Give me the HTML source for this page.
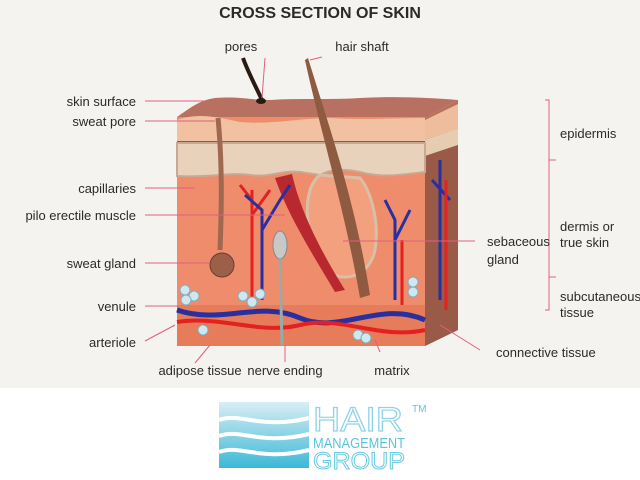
<!DOCTYPE html>
<html><head><style>
html,body{margin:0;padding:0;width:640px;height:480px;overflow:hidden;background:#fff}
svg{display:block}
text{font-family:"Liberation Sans",Arial,sans-serif;font-size:13px;fill:#2a2a2a}
</style></head><body>
<svg width="640" height="480" viewBox="0 0 640 480">
<rect x="0" y="0" width="640" height="388" fill="#f5f3ef"/>
<text x="320" y="18" text-anchor="middle" style="font-size:16px;font-weight:bold">CROSS SECTION OF SKIN</text>

<!-- side face -->
<polygon points="425,118 458,100 458,330 425,346" fill="#b8705a"/>
<polygon points="425,140 458,128 458,145 425,156" fill="#e6cdb2"/>
<polygon points="425,120 458,104 458,128 425,140" fill="#eebd9c"/>
<polygon points="425,156 458,145 458,330 425,346" fill="#9a5a48"/>
<!-- top face -->
<path d="M177,117 C190,108 200,100 215,98 C240,96 250,100 270,100 C300,98 330,100 360,98 C400,96 430,98 458,100 L425,118 Z" fill="#b87060"/>
<!-- front face layers -->
<rect x="177" y="117" width="248" height="229" fill="#ee8c6c"/>
<path d="M177,120 C200,112 220,118 240,122 C270,125 300,118 330,118 C360,120 400,118 425,118 L425,142 L177,142 Z" fill="#f1c1a1"/>
<rect x="177" y="141" width="248" height="2" fill="#8a5a48"/>
<path d="M177,143 L425,143 L425,172 C400,175 380,178 360,172 C340,168 330,170 320,175 L300,172 C280,170 270,178 250,175 C230,172 210,178 177,176 Z" fill="#e8d2bc" stroke="#c8a890" stroke-width="2"/>
<rect x="177" y="305" width="248" height="41" fill="#e67c5a"/>
<!-- sebaceous region -->
<path d="M320,175 C300,190 305,240 325,270 C345,285 370,275 375,250 C380,220 370,190 360,178 Z" fill="#f2a07e" stroke="#d8c0a8" stroke-width="3"/>
<!-- arrector muscle -->
<path d="M275,178 L292,174 C300,210 320,250 345,290 L335,292 C310,250 288,215 275,178 Z" fill="#b8282e"/>
<!-- hair shaft -->
<path d="M305,60 L308,58 C330,130 355,200 370,295 L360,298 C345,210 320,130 305,60 Z" fill="#8e5a40"/>
<path d="M243,58 C248,72 255,85 262,100" stroke="#2a1a14" stroke-width="4" fill="none"/>
<ellipse cx="261" cy="101" rx="5" ry="3" fill="#2a1a14"/>
<!-- sweat gland -->
<path d="M218,118 C222,160 222,200 220,250" stroke="#a06850" stroke-width="5" fill="none"/>
<circle cx="222" cy="265" r="12" fill="#9c6048" stroke="#6a3e2e"/>
<!-- vessels -->
<g fill="none" stroke-width="3">
<path d="M177,310 C220,325 260,300 300,318 C340,335 380,300 425,320" stroke="#2a2fa0" stroke-width="5"/>
<path d="M177,322 C220,315 260,335 300,325 C340,315 380,340 425,330" stroke="#e42020" stroke-width="4"/>
<path d="M252,300 L252,190 M252,200 L240,185 M252,215 L270,190" stroke="#e42020"/>
<path d="M262,300 L262,210 L245,195 M262,230 L280,200 L290,185" stroke="#2a2fa0"/>
<path d="M395,300 L395,220 L385,200 M395,240 L410,210" stroke="#2a2fa0"/>
<path d="M402,305 L402,240" stroke="#e42020"/>
<path d="M440,160 L440,300 M432,180 L450,200" stroke="#2a2fa0"/>
<path d="M446,180 L446,310" stroke="#e42020"/>
</g>
<ellipse cx="280" cy="245" rx="7" ry="14" fill="#c8c8c8" stroke="#888"/>
<line x1="280" y1="258" x2="282" y2="345" stroke="#9aa" stroke-width="3"/>
<!-- adipose -->
<g fill="#cfe8f0" stroke="#8ab">
<circle cx="185" cy="290" r="5"/><circle cx="194" cy="296" r="5"/><circle cx="186" cy="300" r="5"/>
<circle cx="243" cy="296" r="5"/><circle cx="252" cy="302" r="5"/><circle cx="260" cy="294" r="5"/>
<circle cx="203" cy="330" r="5"/><circle cx="358" cy="335" r="5"/><circle cx="366" cy="338" r="5"/>
<circle cx="413" cy="282" r="5"/><circle cx="413" cy="292" r="5"/>
</g>

<!-- leader lines -->
<g stroke="#e06080" stroke-width="1">
<line x1="145" y1="101" x2="205" y2="101"/>
<line x1="145" y1="121" x2="215" y2="121"/>
<line x1="145" y1="188" x2="195" y2="188"/>
<line x1="145" y1="215" x2="285" y2="215"/>
<line x1="145" y1="263" x2="210" y2="263"/>
<line x1="145" y1="306" x2="178" y2="306"/>
<line x1="145" y1="341" x2="175" y2="325"/>
<line x1="265" y1="58" x2="262" y2="98"/>
<line x1="310" y1="60" x2="322" y2="57"/>
<line x1="195" y1="363" x2="210" y2="345"/>
<line x1="285" y1="345" x2="285" y2="362"/>
<line x1="380" y1="352" x2="375" y2="340"/>
<line x1="440" y1="325" x2="480" y2="350"/>
<line x1="343" y1="241" x2="475" y2="241"/>
</g>
<g stroke="#e06080" stroke-width="1" fill="none">
<path d="M545,100 L549,100 L549,310 L545,310"/>
<line x1="549" y1="160" x2="556" y2="160"/>
<line x1="549" y1="277" x2="556" y2="277"/>
</g>
<text x="136" y="106" text-anchor="end">skin surface</text>
<text x="136" y="126" text-anchor="end">sweat pore</text>
<text x="136" y="193" text-anchor="end">capillaries</text>
<text x="136" y="220" text-anchor="end">pilo erectile muscle</text>
<text x="136" y="268" text-anchor="end">sweat gland</text>
<text x="136" y="311" text-anchor="end">venule</text>
<text x="136" y="347" text-anchor="end">arteriole</text>
<text x="241" y="51" text-anchor="middle">pores</text>
<text x="362" y="51" text-anchor="middle">hair shaft</text>
<text x="200" y="375" text-anchor="middle">adipose tissue</text>
<text x="285" y="375" text-anchor="middle">nerve ending</text>
<text x="392" y="375" text-anchor="middle">matrix</text>
<text x="496" y="357">connective tissue</text>
<text x="487" y="246">sebaceous</text>
<text x="487" y="264">gland</text>
<text x="560" y="138">epidermis</text>
<text x="560" y="231">dermis or</text>
<text x="560" y="247">true skin</text>
<text x="560" y="301">subcutaneous</text>
<text x="560" y="317">tissue</text>

<!-- logo -->
<defs><linearGradient id="lg" x1="0" y1="0" x2="0" y2="1"><stop offset="0" stop-color="#d8eef5"/><stop offset="1" stop-color="#3bb8d6"/></linearGradient></defs>
<rect x="219" y="402" width="90" height="66" fill="url(#lg)"/>
<g stroke="#fff" stroke-width="4" fill="none">
<path d="M219,420 C240,412 260,430 309,418"/>
<path d="M219,436 C240,428 260,446 309,434"/>
<path d="M219,452 C240,444 260,462 309,450"/>
</g>
<text x="313" y="431" textLength="90" lengthAdjust="spacingAndGlyphs" style="font-size:34px;fill:none;stroke:#8fd4e6;stroke-width:1.2">HAIR</text>
<text x="313" y="448" textLength="92" lengthAdjust="spacingAndGlyphs" style="font-size:15px;fill:#5cc3dc">MANAGEMENT</text>
<text x="313" y="469" textLength="92" lengthAdjust="spacingAndGlyphs" style="font-size:24px;fill:none;stroke:#6ccbe0;stroke-width:1">GROUP</text>
<text x="412" y="412" style="font-size:10px;fill:#5cc3dc">TM</text>
</svg>
</body></html>
